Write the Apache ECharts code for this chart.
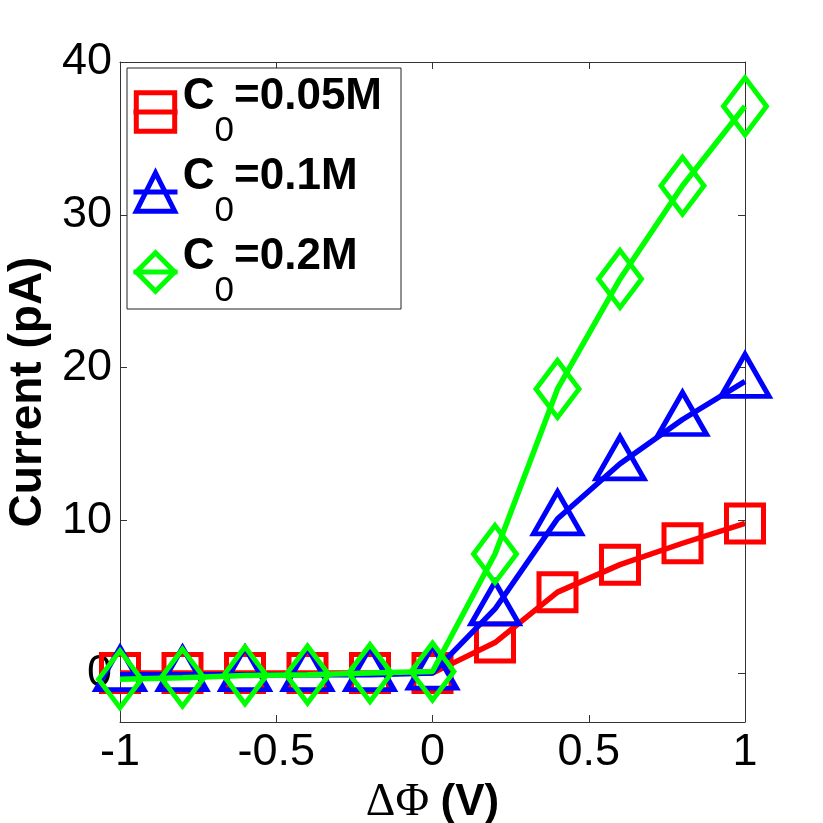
<!DOCTYPE html>
<html><head><meta charset="utf-8">
<script src="https://cdn.jsdelivr.net/npm/echarts@6/dist/echarts.min.js"></script>
<style>html,body{margin:0;padding:0;background:#fff}#c{width:823px;height:823px}</style>
</head><body><div id="c"></div>
<script>
// ---- data ----
const xValues = [-1, -0.8, -0.6, -0.4, -0.2, 0, 0.2, 0.4, 0.6, 0.8, 1];
const current005 = [0.0, 0.0, 0.0, 0.0, 0.0, 0.0, 2.0, 5.3, 7.1, 8.5, 9.8];
const current01  = [-0.1, -0.1, -0.1, -0.1, -0.1, 0.0, 4.2, 10.1, 13.7, 16.6, 19.1];
const current02  = [-0.4, -0.3, -0.15, -0.1, 0.0, 0.1, 7.8, 18.6, 25.8, 31.9, 37.1];
const concentrations = ['0.05M', '0.1M', '0.2M'];
const xTickValues = [-1, -0.5, 0, 0.5, 1];
const yTickValues = [0, 10, 20, 30, 40];

const chart = echarts.init(document.getElementById('c'));
const FONT = 'Liberation Sans, Arial, sans-serif';
const axisColor = '#333';

function pts(arr) { return xValues.map((x, i) => [x, arr[i]]); }

const styles = [
  { color: '#ff0000', symbol: 'rect', size: [37, 37], offset: [0, 0] },
  { color: '#0000ff', symbol: 'triangle', size: [48, 42], offset: [0, -6] },
  { color: '#00ff00', symbol: 'diamond', size: [43, 57], offset: [0, 0] }
];
const allData = [current005, current01, current02];

const series = allData.map((arr, i) => ({
  type: 'line',
  name: concentrations[i],
  data: pts(arr),
  symbol: styles[i].symbol,
  symbolSize: styles[i].size,
  symbolOffset: styles[i].offset,
  showAllSymbol: true,
  clip: false,
  z: 2 + i,
  itemStyle: { color: 'rgba(0,0,0,0)', borderColor: styles[i].color, borderWidth: 5 },
  lineStyle: { color: styles[i].color, width: 5.5 },
  emphasis: { disabled: true },
  animation: false
}));

const tickCommon = { show: true, inside: true, length: 7, lineStyle: { color: axisColor, width: 1 } };

chart.setOption({
  animation: false,
  backgroundColor: '#fff',
  grid: { left: 120, right: 78, top: 62, bottom: 101, containLabel: false, outerBoundsMode: 'none' },
  legend: {
    orient: 'vertical',
    left: 127, top: 68,
    padding: [7, 19, 0, 4],
    itemGap: 6,
    itemWidth: 44,
    itemHeight: 48,
    borderColor: '#222',
    borderWidth: 1,
    backgroundColor: '#fff',
    selectedMode: false,
    itemStyle: { borderWidth: 5 },
    lineStyle: { width: 5 },
    data: concentrations,
    formatter: name => '{z| }{m|C}{s|0}{m|=' + name + '}',
    textStyle: {
      color: '#000',
      rich: {
        z: { fontSize: 1, lineHeight: 74 },
        m: { fontFamily: FONT, fontWeight: 'bold', fontSize: 44, lineHeight: 53, verticalAlign: 'top', color: '#000' },
        s: { fontFamily: FONT, fontWeight: 'normal', fontSize: 35, lineHeight: 50, verticalAlign: 'bottom', color: '#000' }
      }
    }
  },
  xAxis: [{
    type: 'value', min: -1, max: 1, interval: 0.5, position: 'bottom',
    axisLine: { show: true, onZero: false, lineStyle: { color: axisColor, width: 1 } },
    axisTick: tickCommon,
    splitLine: { show: false },
    axisLabel: { fontFamily: FONT, fontSize: 45, color: '#000', margin: 8, formatter: v => String(v) },
    name: '{a|ΔΦ }{b|(V)}',
    nameLocation: 'middle',
    nameGap: 50,
    nameTextStyle: {
      rich: {
        a: { fontFamily: 'Liberation Serif, Times New Roman, serif', fontSize: 46, color: '#000' },
        b: { fontFamily: FONT, fontWeight: 'bold', fontSize: 44, color: '#000' }
      }
    }
  }, {
    type: 'value', min: -1, max: 1, interval: 0.5, position: 'top',
    axisLine: { show: true, onZero: false, lineStyle: { color: axisColor, width: 1 } },
    axisTick: tickCommon,
    axisLabel: { show: false },
    splitLine: { show: false }
  }],
  yAxis: [{
    type: 'value', min: -3.2, max: 40, position: 'left',
    axisLine: { show: true, onZero: false, lineStyle: { color: axisColor, width: 1 } },
    axisTick: Object.assign({}, tickCommon, { customValues: yTickValues }),
    axisLabel: { fontFamily: FONT, fontSize: 45, color: '#000', margin: 8, customValues: yTickValues },
    splitLine: { show: false },
    name: 'Current (pA)',
    nameLocation: 'middle',
    nameGap: 58,
    nameTextStyle: { fontFamily: FONT, fontWeight: 'bold', fontSize: 46, color: '#000' }
  }, {
    type: 'value', min: -3.2, max: 40, position: 'right',
    axisLine: { show: true, onZero: false, lineStyle: { color: axisColor, width: 1 } },
    axisTick: Object.assign({}, tickCommon, { customValues: yTickValues }),
    axisLabel: { show: false, customValues: yTickValues },
    splitLine: { show: false }
  }],
  series: series
});
</script></body></html>
